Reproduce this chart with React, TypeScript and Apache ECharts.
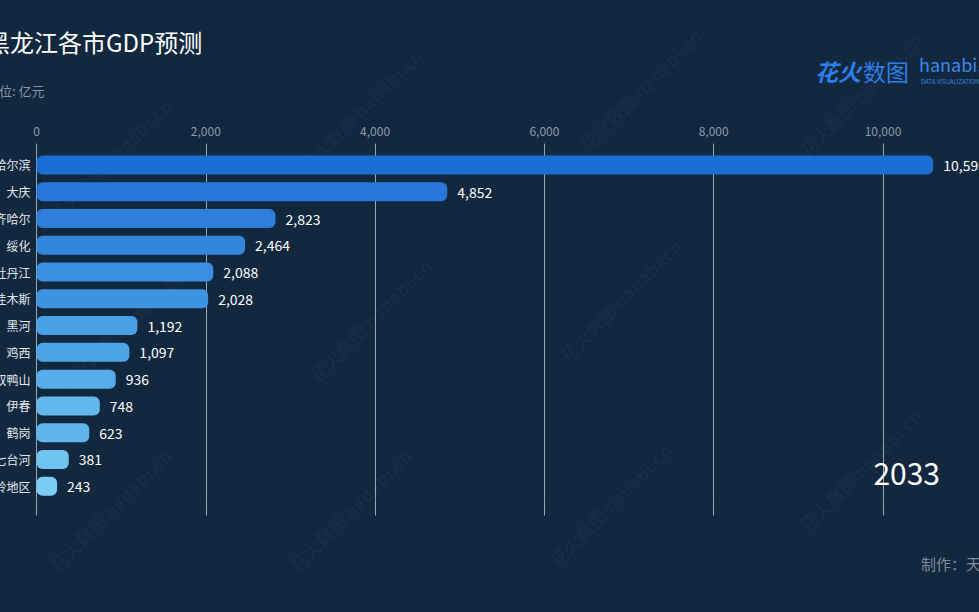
import React, { useEffect, useRef } from 'react';
import * as echarts from 'echarts';

const cities = ['哈尔滨', '大庆', '齐齐哈尔', '绥化', '牡丹江', '佳木斯', '黑河', '鸡西', '双鸭山', '伊春', '鹤岗', '七台河', '大兴安岭地区'];
const gdp = [10593, 4852, 2823, 2464, 2088, 2028, 1192, 1097, 936, 748, 623, 381, 243];
const barColors = ['#1c6ed6', '#2677d9', '#2d7fdb', '#3287dd', '#3a8fe0', '#3e94e1', '#48a0e5', '#4ca4e6', '#56ade9', '#62b8ed', '#5fb5ec', '#6fc4f0', '#7ccdf3'];
const titleText = '黑龙江各市GDP预测';
const subtitleText = '单位: 亿元';
const yearText = '2033';
const creditText = '制作：天';

const FONT = '"Noto Sans CJK SC", "Noto Sans", sans-serif';

export default function App() {
  const ref = useRef<HTMLDivElement>(null);
  useEffect(() => {
    if (!ref.current) return;
    const chart = echarts.init(ref.current, null, { renderer: 'svg' });
    const wmPos = [
      [110, 160], [360, 110], [860, 95],
      [370, 320], [620, 300], [120, 330],
      [110, 510], [350, 510], [610, 505], [860, 470], [640, 90],
    ];
    const watermarks = wmPos.map(([x, y]) => ({
      type: 'text',
      x, y,
      rotation: Math.PI / 4,
      silent: true,
      z: 0,
      style: {
        text: '花火数图 hanabi.cn',
        fill: 'rgba(255,255,255,0.035)',
        font: `bold 18px ${FONT}`,
        align: 'center',
        verticalAlign: 'middle',
      },
    }));
    chart.setOption({
      animation: false,
      backgroundColor: '#12283e',
      textStyle: { fontFamily: FONT },
      grid: { left: 36.5, right: -73.3, top: 151.6, bottom: 112.4, containLabel: false, outerBoundsMode: 'none' },
      xAxis: [
        {
          type: 'value',
          position: 'top',
          min: 0,
          max: 12000,
          interval: 2000,
          axisLine: { show: false },
          axisTick: { show: true, length: 8, lineStyle: { color: '#9aa6b4', width: 1 } },
          axisLabel: { color: '#8e9bab', fontSize: 12, margin: 15, fontFamily: FONT },
          splitLine: { show: true, lineStyle: { color: '#9aa6b4', width: 1 } },
        },
        {
          type: 'value',
          position: 'bottom',
          min: 0,
          max: 12000,
          interval: 2000,
          axisLine: { show: false },
          axisTick: { show: true, length: 16, lineStyle: { color: '#9aa6b4', width: 1 } },
          axisLabel: { show: false },
          splitLine: { show: false },
        },
      ],
      yAxis: {
        type: 'category',
        inverse: true,
        data: cities,
        axisLine: { show: false },
        axisTick: { show: false },
        axisLabel: { color: '#e3e8ee', fontSize: 12, margin: 6, fontFamily: FONT },
      },
      series: [
        {
          type: 'bar',
          xAxisIndex: 0,
          data: gdp.map((v, i) => ({ value: v, itemStyle: { color: barColors[i] } })),
          barWidth: 19,
          itemStyle: { borderRadius: 6 },
          label: {
            show: true,
            position: 'right',
            distance: 10,
            color: '#ffffff',
            fontSize: 14,
            fontFamily: FONT,
            formatter: (p: any) => Number(p.value).toLocaleString('en-US'),
          },
        },
      ],
      graphic: [
        ...watermarks,
        {
          type: 'text', left: -14, top: 29, z: 10,
          style: { text: titleText, fill: '#ffffff', font: `24px ${FONT}` },
        },
        {
          type: 'text', left: -14, top: 84, z: 10,
          style: { text: subtitleText, fill: '#8a97a5', font: `13px ${FONT}` },
        },
        {
          type: 'text', x: 815, y: 71, z: 10,
          style: { text: '花火', fill: '#2c7fe8', font: `bold italic 23px ${FONT}`, verticalAlign: 'middle' },
        },
        {
          type: 'text', x: 863, y: 71, z: 10,
          style: { text: '数图', fill: '#2c7fe8', font: `23px ${FONT}`, verticalAlign: 'middle' },
        },
        {
          type: 'text', x: 919, y: 64, z: 10,
          style: { text: 'hanabi.cn', fill: '#3a88ea', font: `18px ${FONT}`, verticalAlign: 'middle' },
        },
        {
          type: 'text', x: 921, y: 81, z: 10,
          style: { text: 'DATA VISUALIZATION', fill: '#3a88ea', font: `6px ${FONT}`, verticalAlign: 'middle' },
        },
        {
          type: 'text', right: 39, top: 457, z: 10,
          style: { text: yearText, fill: '#ffffff', font: `30px ${FONT}` },
        },
        {
          type: 'text', x: 921, y: 563, z: 10,
          style: { text: creditText, fill: '#7f8b99', font: `15px ${FONT}`, verticalAlign: 'middle' },
        },
      ],
    });
    return () => chart.dispose();
  }, []);
  return <div ref={ref} style={{ position: 'fixed', left: 0, top: 0, width: 979, height: 612 }} />;
}
